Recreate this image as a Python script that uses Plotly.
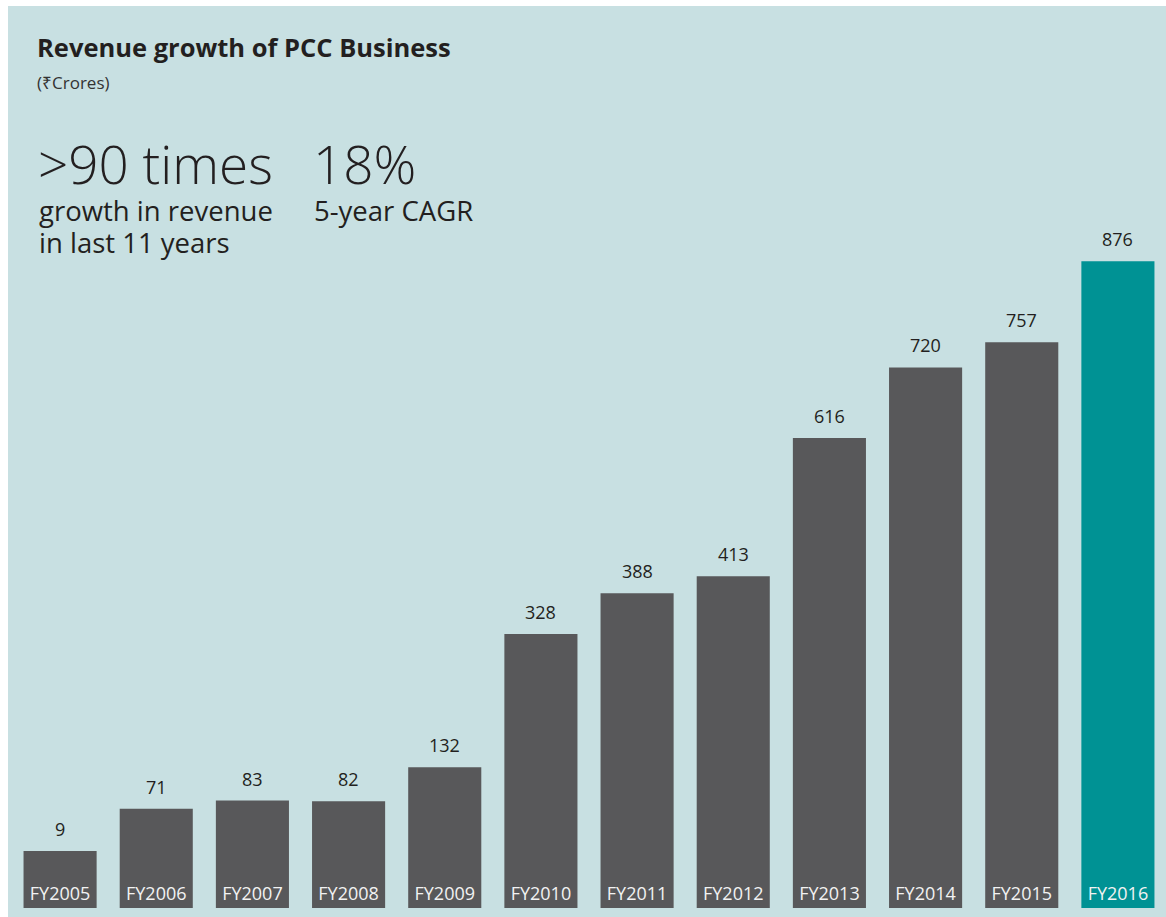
import plotly.graph_objects as go

categories = ["FY2005", "FY2006", "FY2007", "FY2008", "FY2009", "FY2010",
              "FY2011", "FY2012", "FY2013", "FY2014", "FY2015", "FY2016"]
revenue = [9, 71, 83, 82, 132, 328, 388, 413, 616, 720, 757, 876]

W, H = 1166, 917
L, R, B = 12, 0, 9
OFFSET = 75          # space below zero reserved for the in-bar labels
YMAX = 1000
PX_PER_UNIT = 0.68
plot_h = (YMAX + OFFSET) * PX_PER_UNIT
T = H - B - plot_h
plot_w = W - L - R
plot_bottom = H - B

def px(x):
    return (x - L) / plot_w

def py(y):
    return (plot_bottom - y) / plot_h

GRAY = "#58585a"
TEAL = "#009294"
BG = "#c8e0e2"
TXT = "#231f20"
FONT = "Open Sans"

colors = [GRAY] * (len(categories) - 1) + [TEAL]

fig = go.Figure()
fig.add_trace(go.Bar(
    x=categories,
    y=[v + OFFSET for v in revenue],
    base=-OFFSET,
    marker=dict(color=colors, line=dict(width=0)),
    text=categories,
    textposition="inside",
    insidetextanchor="start",
    textangle=0,
    insidetextfont=dict(family=FONT, size=18, color="#f2f2f2"),
    hoverinfo="skip",
))

annotations = []
for c, v in zip(categories, revenue):
    annotations.append(dict(
        x=c, y=v, xref="x", yref="y", text=str(v), showarrow=False,
        yanchor="bottom", yshift=8,
        font=dict(family=FONT, size=18, color=TXT),
    ))

def note(text, x, y, size, weight="normal", color=TXT):
    annotations.append(dict(
        x=px(x), y=py(y), xref="paper", yref="paper", text=text,
        showarrow=False, xanchor="left", yanchor="middle", align="left",
        font=dict(family=FONT, size=size, color=color, weight=weight),
    ))

note("Revenue growth of PCC Business", 35, 47, 25.5, weight="bold")
note("(₹Crores)", 35, 82, 17, color="#333333")
note(">90 times", 36, 164, 53, weight=300)
note("18%", 311, 164, 53, weight=300)
note("growth in revenue", 37, 211, 27.5)
note("in last 11 years", 37, 242, 27.5)
note("5-year CAGR", 312, 211, 27.5)

fig.update_layout(
    width=W, height=H,
    margin=dict(l=L, r=R, t=T, b=B, pad=0),
    paper_bgcolor="white",
    plot_bgcolor=BG,
    bargap=0.24,
    showlegend=False,
    annotations=annotations,
    shapes=[dict(type="rect", xref="paper", yref="paper",
                 x0=px(8), x1=px(W + 2), y0=py(H + 2), y1=py(6),
                 fillcolor=BG, line=dict(width=0), layer="below")],
    xaxis=dict(showticklabels=False, showgrid=False, zeroline=False,
               showline=False, ticks=""),
    yaxis=dict(range=[-OFFSET, YMAX], visible=False, showgrid=False,
               zeroline=False),
    uniformtext=dict(minsize=18, mode="show"),
)

fig.write_html("out.html")
